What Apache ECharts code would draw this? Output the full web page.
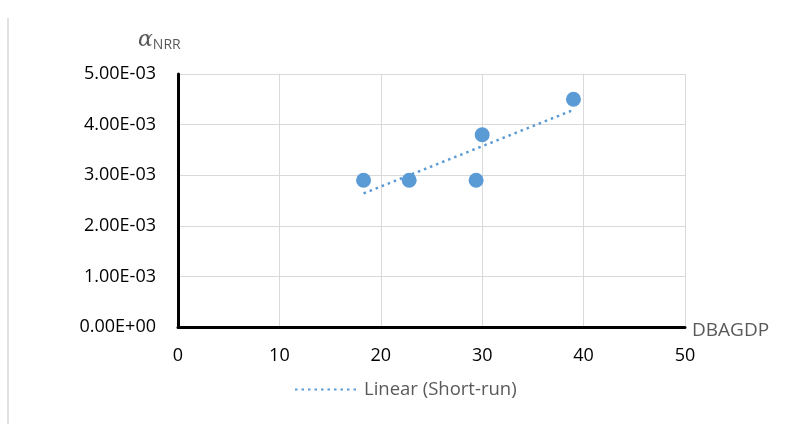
<!DOCTYPE html>
<html><head><meta charset="utf-8">
<script src="https://cdn.jsdelivr.net/npm/echarts@6/dist/echarts.min.js"></script>
<style>html,body{margin:0;padding:0;background:#fff}#c{width:790px;height:424px}</style>
</head><body><div id="c"></div>
<script>
const xValues = [18.3, 22.8, 29.4, 30.0, 39.0];
const yValues = [2.9e-3, 2.9e-3, 2.9e-3, 3.8e-3, 4.5e-3];
const trendX = [18.3, 39.0];
const trendY = [2.64e-3, 4.29e-3];
const xTicks = [0, 10, 20, 30, 40, 50];
const yTicks = [0, 1e-3, 2e-3, 3e-3, 4e-3, 5e-3];
const trendName = 'Linear (Short-run)';

function fmtE(v){
  if (Math.abs(v) < 1e-12) return '0.00E+00';
  const s = v.toExponential(2);
  const [m, e] = s.split('e');
  const sign = e[0] === '-' ? '-' : '+';
  const d = e.replace(/[+-]/, '').padStart(2, '0');
  return m + 'E' + sign + d;
}
const font = 'Open Sans, Liberation Sans, sans-serif';
const chart = echarts.init(document.getElementById('c'));
chart.setOption({
  animation: false,
  backgroundColor: '#fff',
  grid: {left: 178, right: 105, top: 74, bottom: 97},
  xAxis: {
    type: 'value', min: xTicks[0], max: xTicks[xTicks.length-1], interval: 10,
    name: 'DBAGDP', nameLocation: 'end', nameGap: 7,
    nameTextStyle: {color: '#595959', fontSize: 19, fontFamily: font, verticalAlign: 'top', padding: [-6,0,0,0]},
    axisLine: {onZero: false, lineStyle: {color: '#000', width: 3}},
    axisTick: {show: false},
    axisLabel: {color: '#000', fontSize: 18, fontFamily: font, margin: 20},
    splitLine: {lineStyle: {color: '#d9d9d9', width: 1}}
  },
  yAxis: {
    type: 'value', min: yTicks[0], max: yTicks[yTicks.length-1], interval: 1e-3,
    axisLine: {show: true, onZero: false, lineStyle: {color: '#000', width: 3}},
    axisTick: {show: false},
    axisLabel: {color: '#000', fontSize: 18, fontFamily: font, margin: 22, formatter: fmtE},
    splitLine: {lineStyle: {color: '#d9d9d9', width: 1}}
  },
  legend: {
    show: true, data: [trendName], bottom: 20, left: 289,
    itemWidth: 64, itemHeight: 10, itemGap: 11,
    itemStyle: {opacity: 0},
    textStyle: {color: '#595959', fontSize: 18.5, fontFamily: font}
  },
  graphic: [
    {type: 'line', shape: {x1: 8, y1: 18, x2: 8, y2: 424}, style: {stroke: '#d9d9d9', lineWidth: 1.5}},
    {type: 'text', left: 138, top: 29, style: {
      rich: {
        a: {fontFamily: 'DejaVu Serif, serif', fontStyle: 'italic', fontSize: 22, fill: '#595959'},
        s: {fontFamily: font, fontSize: 14, fill: '#595959', padding: [10,0,0,0]}
      },
      text: '{a|α}{s|NRR}'
    }}
  ],
  series: [
    {
      type: 'scatter', name: 'Short-run', symbolSize: 15,
      itemStyle: {color: '#5b9bd5', opacity: 1},
      data: xValues.map((x, i) => [x, yValues[i]])
    },
    {
      type: 'line', name: trendName, symbol: 'none',
      lineStyle: {color: '#5b9bd5', width: 2.5, type: [2.5, 4]},
      itemStyle: {color: '#5b9bd5'},
      data: trendX.map((x, i) => [x, trendY[i]])
    }
  ]
});
</script></body></html>
